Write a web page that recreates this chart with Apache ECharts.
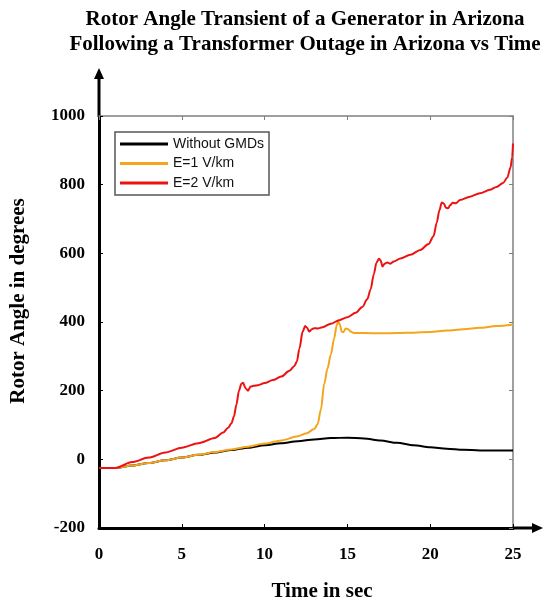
<!DOCTYPE html>
<html>
<head>
<meta charset="utf-8">
<title>Rotor Angle Transient</title>
<script src="https://cdn.jsdelivr.net/npm/echarts@6/dist/echarts.min.js"></script>
<style>
  html, body { margin: 0; padding: 0; background: #fff; }
  #chart { width: 544px; height: 603px; }
</style>
</head>
<body>
<div id="chart"></div>
<script>
// time in sec / rotor angle in degrees
const tBlack = [0, 1, 2, 3, 4, 5, 6, 7, 8, 9, 10, 11, 12, 13, 14, 15, 16, 17, 18, 19, 20, 21, 22, 23, 24, 25];
const aBlack = [-25, -25, -18, -11, -3, 5, 13, 20, 27, 34, 41, 47, 53, 58, 62, 63, 61, 55, 48, 41, 35, 31, 28, 26, 26, 26];

const tOrange = [0, 1, 2, 3, 4, 5, 6, 7, 8, 9, 10, 11, 12, 12.5, 13.0, 13.2, 13.4, 13.6, 13.8, 14.0,
  14.2, 14.35, 14.45, 14.55, 14.65, 14.75, 14.9, 15.05, 15.2, 15.4, 16, 17, 18, 19, 20, 21, 22, 23, 24, 25];
const aOrange = [-25, -25, -18, -11, -3, 5, 13, 21, 29, 37, 46, 55, 67, 75, 88, 102, 145, 220, 265, 305,
  352, 390, 401, 392, 372, 370, 381, 379, 372, 368, 368, 367, 368, 369, 371, 375, 379, 383, 388, 393];

const tRed = [0, 1, 2, 3, 4, 5, 6, 7, 7.5, 7.8, 8.0, 8.15, 8.3, 8.45, 8.6, 8.7, 8.85, 9.0,
  9.15, 9.35, 9.6, 10, 10.5, 11, 11.5, 11.8, 11.95, 12.1, 12.3, 12.45, 12.55, 12.7, 12.85, 13.0, 13.2, 13.5, 14, 14.5,
  15, 15.5, 15.9, 16.2, 16.4, 16.6, 16.75, 16.9, 17.0, 17.12, 17.25, 17.4, 17.6, 17.8, 18.2, 18.8, 19.4, 19.9, 20.2, 20.4,
  20.55, 20.7, 20.82, 20.95, 21.08, 21.2, 21.35, 21.55, 21.8, 22.4, 23.0, 23.6, 24.0, 24.4, 24.65, 24.85, 24.95, 25];
const aRed = [-25, -25, -8, 5, 20, 34, 47, 62, 78, 92, 105, 125, 160, 200, 220, 223, 207, 200,
  212, 214, 216, 222, 231, 241, 258, 272, 285, 322, 372, 388, 384, 372, 379, 382, 381, 385, 395, 405,
  414, 427, 444, 466, 495, 540, 572, 584, 580, 562, 570, 573, 570, 576, 585, 596, 610, 627, 650, 690,
  725, 748, 745, 733, 731, 740, 747, 746, 755, 765, 775, 785, 793, 805, 820, 850, 880, 920];

const seriesNames = ['Without GMDs', 'E=1 V/km', 'E=2 V/km'];
const seriesColors = ['#000000', '#f4a51c', '#ee1111'];

const serif = '"Liberation Serif", "Times New Roman", serif';
const sans = '"Liberation Sans", Arial, sans-serif';

function pairs(t, a) {
  return t.map((x, i) => [x, a[i]]);
}

const chart = echarts.init(document.getElementById('chart'));

// thin grey top / right edges of the plot box
const frameAxis = {
  axisLine: { show: true, onZero: false, lineStyle: { color: '#808080', width: 1.5 } },
  axisTick: { show: true, inside: true, length: 4, lineStyle: { color: '#808080' } },
  axisLabel: { show: false },
  splitLine: { show: false }
};

chart.setOption({
  animation: false,
  backgroundColor: '#fff',
  title: {
    text: 'Rotor Angle Transient of a Generator in Arizona\nFollowing a Transformer Outage in Arizona vs Time',
    left: 305,
    top: 2,
    textAlign: 'center',
    padding: [5, 0, 5, 0],
    textStyle: { fontFamily: serif, fontWeight: 'bold', fontSize: 21, lineHeight: 25, color: '#000' }
  },
  legend: {
    data: seriesNames,
    orient: 'vertical',
    left: 115,
    top: 132,
    padding: [5, 5, 5, 5],
    itemGap: 5.5,
    itemWidth: 48,
    itemHeight: 3,
    itemTextGap: 3,
    icon: 'rect',
    backgroundColor: '#fff',
    borderColor: '#555',
    borderWidth: 1.5,
    borderRadius: 0,
    textStyle: { fontFamily: sans, fontSize: 14, lineHeight: 14, color: '#111' }
  },
  grid: { left: 99, right: 31, top: 116, bottom: 75, outerBoundsMode: 'none' },
  xAxis: [
    {
      type: 'value', min: 0, max: 25, interval: 5, position: 'bottom',
      name: 'Time in sec', nameLocation: 'middle', nameGap: 53,
      nameTextStyle: { fontFamily: serif, fontWeight: 'bold', fontSize: 21, color: '#000', padding: [0, 0, 0, 32] },
      axisLine: { onZero: false, lineStyle: { color: '#000', width: 3 } },
      axisTick: { inside: true, length: 4, lineStyle: { color: '#000' } },
      axisLabel: { fontFamily: serif, fontWeight: 'bold', fontSize: 17, color: '#000', margin: 18 },
      splitLine: { show: false }
    },
    Object.assign({ type: 'value', min: 0, max: 25, interval: 5, position: 'top' }, frameAxis)
  ],
  yAxis: [
    {
      type: 'value', min: -200, max: 1000, interval: 200, position: 'left',
      name: 'Rotor Angle in degrees', nameLocation: 'middle', nameRotate: 90, nameGap: 70,
      nameTextStyle: { fontFamily: serif, fontWeight: 'bold', fontSize: 21, color: '#000', padding: [0, 0, 0, 42] },
      axisLine: { show: true, onZero: false, lineStyle: { color: '#000', width: 3 } },
      axisTick: { show: true, inside: true, length: 4, lineStyle: { color: '#000' } },
      axisLabel: {
        fontFamily: serif, fontWeight: 'bold', fontSize: 17, color: '#000', margin: 14,
        formatter: (v) => String(v)
      },
      splitLine: { show: false }
    },
    Object.assign({ type: 'value', min: -200, max: 1000, interval: 200, position: 'right' }, frameAxis)
  ],
  series: [
    { name: seriesNames[0], type: 'line', data: pairs(tBlack, aBlack) },
    { name: seriesNames[1], type: 'line', data: pairs(tOrange, aOrange) },
    { name: seriesNames[2], type: 'line', data: pairs(tRed, aRed) }
  ].map((s, i) => Object.assign(s, {
    showSymbol: false,
    symbol: 'none',
    smooth: 0.3,
    smoothMonotone: 'x',
    color: seriesColors[i],
    lineStyle: { color: seriesColors[i], width: 2 }
  }))
});

// axis lines run on past the frame and end in arrows
const o = chart.convertToPixel({ seriesIndex: 0 }, [0, -200]);
const yTop = chart.convertToPixel({ seriesIndex: 0 }, [0, 1000])[1];
const xEnd = chart.convertToPixel({ seriesIndex: 0 }, [25, -200])[0];
chart.setOption({
  graphic: [
    { type: 'line', shape: { x1: o[0], y1: yTop + 1, x2: o[0], y2: yTop - 40 }, style: { stroke: '#000', lineWidth: 3 } },
    { type: 'polygon', shape: { points: [[o[0], yTop - 48], [o[0] - 5, yTop - 37], [o[0] + 5, yTop - 37]] }, style: { fill: '#000' } },
    { type: 'line', shape: { x1: xEnd - 1, y1: o[1], x2: xEnd + 22, y2: o[1] }, style: { stroke: '#000', lineWidth: 3 } },
    { type: 'polygon', shape: { points: [[xEnd + 30, o[1]], [xEnd + 19, o[1] - 5], [xEnd + 19, o[1] + 5]] }, style: { fill: '#000' } }
  ]
});
</script>
</body>
</html>
